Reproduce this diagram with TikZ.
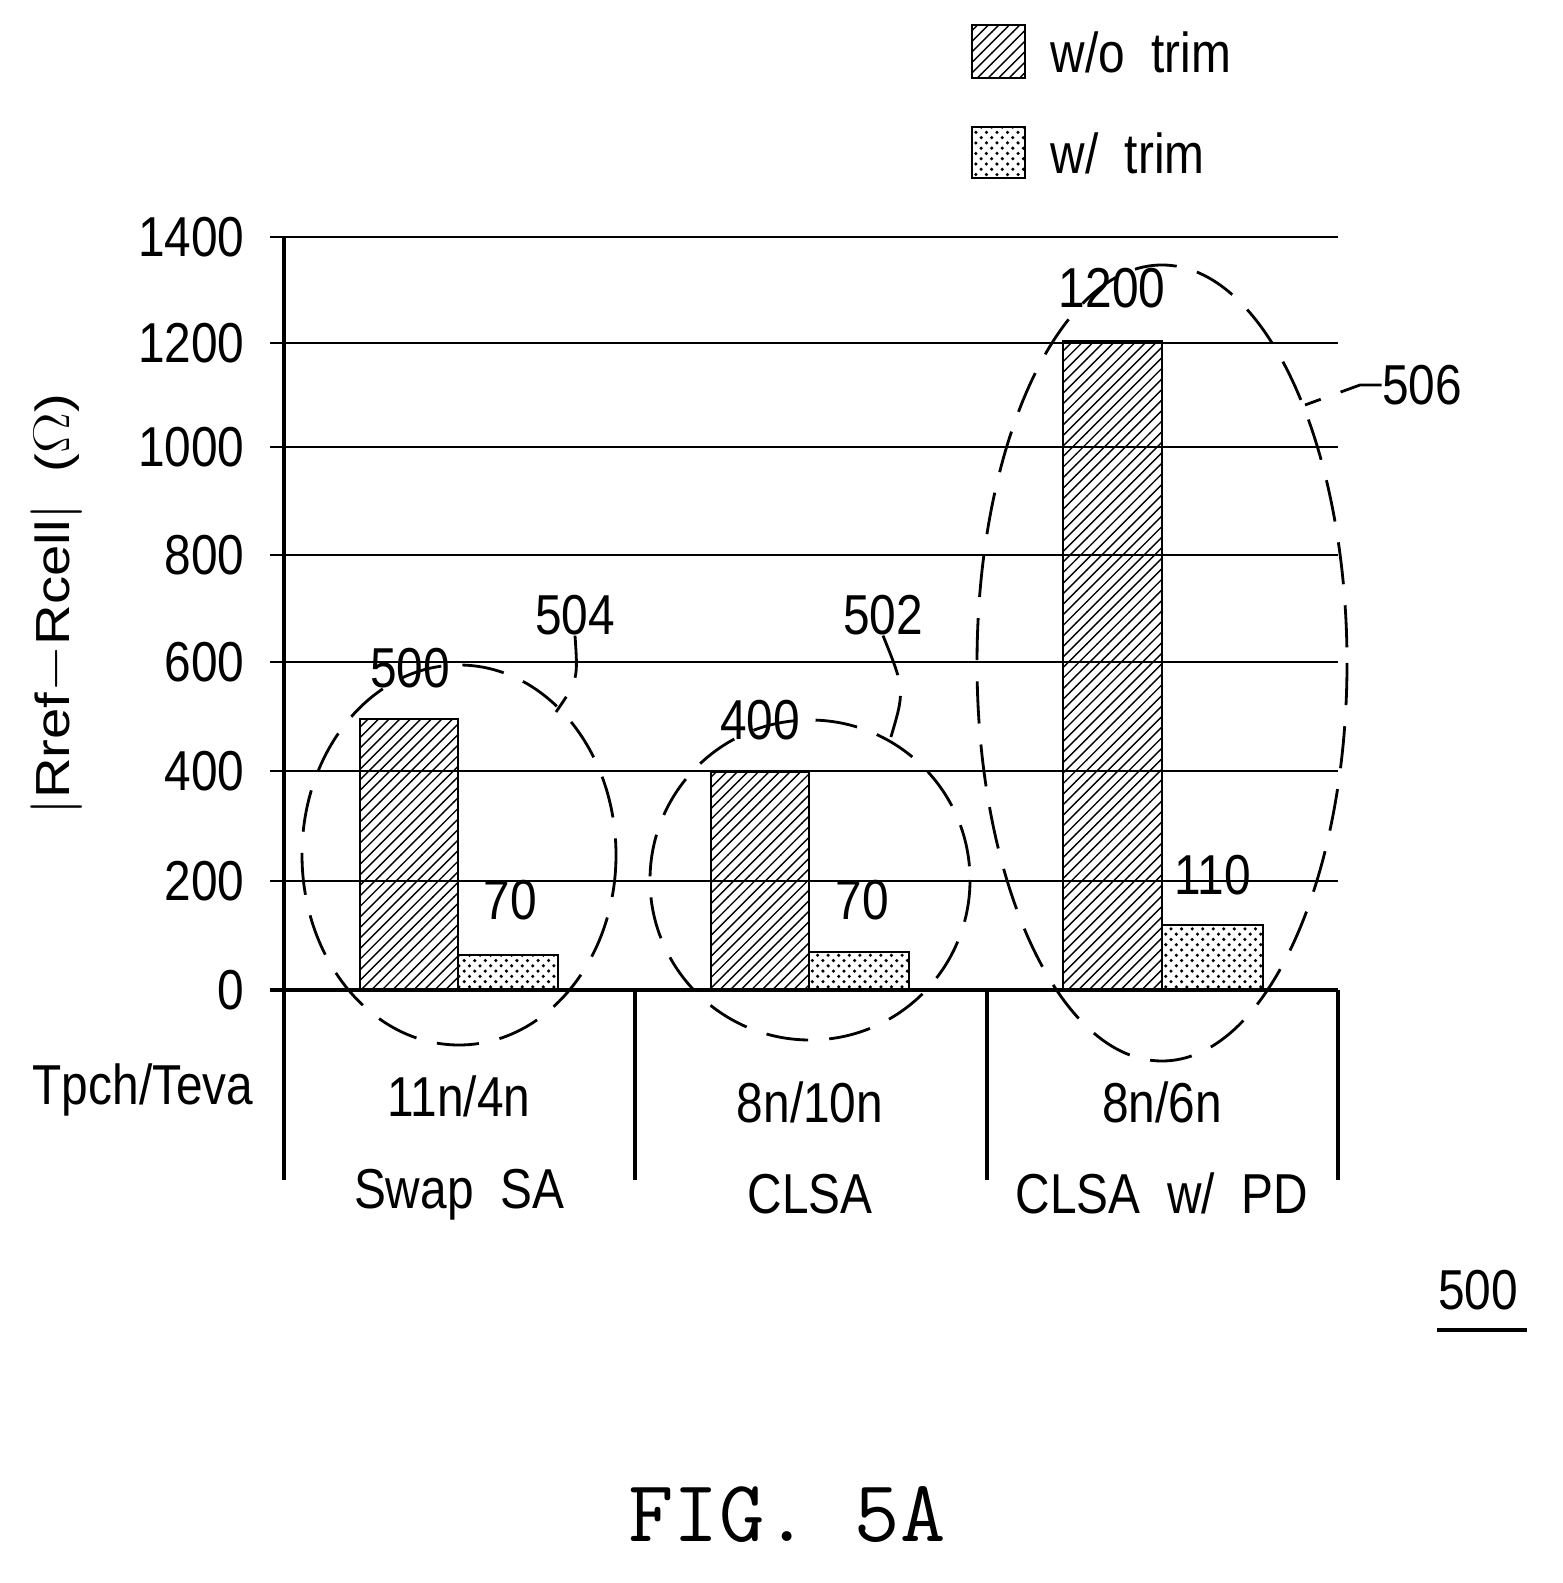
\documentclass[tikz,border=0pt]{standalone}
\usepackage{fontspec}
\setmainfont{Liberation Sans}
\usetikzlibrary{patterns}
\tikzset{
  lbl/.style={font=\fontsize{16}{18}\selectfont, xscale=.85, inner sep=0},
  grid/.style={line width=.5pt},
  hatchbar/.style={draw, line width=.8pt, pattern=north east lines},
  dotbar/.style={draw, line width=.8pt, pattern=crosshatch dots},
  ring/.style={dashed, dash pattern=on 12pt off 6pt, line width=.8pt}
}
\begin{document}
\begin{tikzpicture}[x=0.01cm, y=-0.01cm]
    \useasboundingbox (0, 0) rectangle (1562, 1583);
    % legend
    \draw[hatchbar] (972, 25) rectangle (1025, 78);
    \draw[dotbar] (972, 127) rectangle (1025, 178);
    \node[lbl, anchor=west] (leg1) at (1050, 52) {w/o\ \ trim};
    \node[lbl, anchor=west] (leg2) at (1050, 153) {w/\ \ trim};
    % grid lines and ticks
    \foreach \v/\y in {1400/237, 1200/343, 1000/447, 800/555, 600/662, 400/771, 200/881} {
        \draw[grid] (270, \y) -- (1338, \y);
        \node[lbl, anchor=east] at (245, \y) {\v};
    }
    \node[lbl, anchor=east] at (245, 990) {0};
    \draw[line width=1.2pt] (284, 237) -- (284, 1180);
    \draw[line width=1.2pt] (270, 990) -- (1338, 990);
    \foreach \x in {635, 987, 1338}
        \draw[line width=1.2pt] (\x, 990) -- (\x, 1180);
    % bars
    \draw[hatchbar] (360, 990) rectangle (458, 719);
    \draw[dotbar] (458, 990) rectangle (558, 955);
    \draw[hatchbar] (711, 990) rectangle (809, 772);
    \draw[dotbar] (809, 990) rectangle (909, 952);
    \draw[hatchbar] (1063, 990) rectangle (1162, 341);
    \draw[dotbar] (1162, 990) rectangle (1263, 925);
    % values
    \node[lbl] (v1) at (410, 668) {500};
    \node[lbl] (v2) at (510, 900) {70};
    \node[lbl] (v3) at (760, 720) {400};
    \node[lbl] (v4) at (862, 900) {70};
    \node[lbl] (v5) at (1112, 288) {1200};
    \node[lbl] (v6) at (1213, 875) {110};
    % rings
    \draw[ring] (459, 855) ellipse (157 and 190);
    \draw[ring] (810, 880) ellipse (160 and 160);
    \draw[ring] (1162, 663) ellipse (185 and 398);
    \node[lbl] (r504) at (575, 615) {504};
    \node[lbl] (r502) at (883, 615) {502};
    \node[lbl] (r506) at (1422, 385) {506};
    \draw[ring] (r504.south) .. controls (578, 680) .. (556, 712);
    \draw[ring] (r502.south) .. controls (905, 690) .. (890, 740);
    \draw[ring] (r506.west) -- (1360, 385) -- (1305, 405);
    % axis texts
    \node[lbl, rotate=90] (ytitle) at (57, 605) {$|$Rref$-$Rcell$|$\ \ ($\Omega$)};
    \node[lbl] (tp) at (143, 1090) {Tpch/Teva};
    \node[lbl, align=center] (c1) at (459, 1148) {11n/4n\\[8pt]Swap\ \ SA};
    \node[lbl, align=center] (c2) at (810, 1148) {8n/10n\\[8pt]CLSA};
    \node[lbl, align=center] (c3) at (1162, 1148) {8n/6n\\[8pt]CLSA\ \ w/\ \ PD};
    \node[lbl] (fig) at (1478, 1290) {500};
    \draw[line width=1.2pt] (1437, 1330) -- (1527, 1330);
    \node[font=\fontsize{25}{28}\selectfont\ttfamily] (title) at (787, 1515) {FIG. 5A};
\end{tikzpicture}
\end{document}
